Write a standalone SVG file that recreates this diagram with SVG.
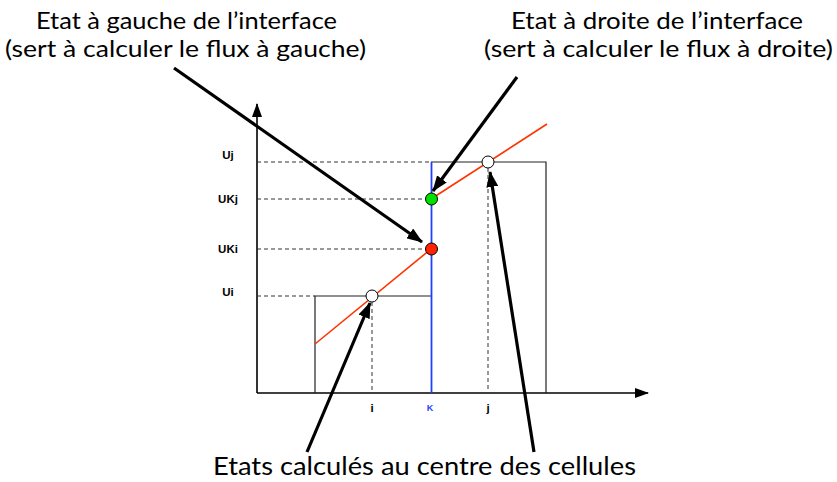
<svg xmlns="http://www.w3.org/2000/svg" width="837" height="482" viewBox="0 0 837 482">
<defs>
<marker id="bigArrow" markerUnits="userSpaceOnUse" markerWidth="16" markerHeight="12" refX="15" refY="6" orient="auto">
<path d="M0,0 L16,6 L0,12 z" fill="#000"/>
</marker>
<marker id="axisArrow" markerUnits="userSpaceOnUse" markerWidth="14" markerHeight="10" refX="13" refY="5" orient="auto">
<path d="M0,0 L14,5 L0,10 z" fill="#000"/>
</marker>
</defs>
<style>
.title{font-family:Lato,"Open Sans","DejaVu Sans",sans-serif;font-size:23px;fill:#000;text-anchor:middle}
.lbl{font-family:"Liberation Sans",Arial,sans-serif;font-size:11.5px;font-weight:bold;fill:#000;text-anchor:middle}
.dash{stroke:#333;stroke-width:1;stroke-dasharray:4,3;fill:none}
.cell{stroke:#222;stroke-width:1.2;fill:none}
.axis{stroke:#000;stroke-width:1.6;fill:none}
.big{stroke:#000;stroke-width:3.2;fill:none;marker-end:url(#bigArrow)}
.red{stroke:#ff3300;stroke-width:1.6;fill:none}
.pt{stroke:#000;stroke-width:1}
</style>
<rect width="837" height="482" fill="#fff"/>

<g id="axes">
<line class="axis" x1="257" y1="393" x2="257" y2="104" marker-end="url(#axisArrow)"/>
<line class="axis" x1="257" y1="393" x2="648" y2="393" marker-end="url(#axisArrow)"/>
</g>

<g id="guides">
<line class="dash" x1="257" y1="162" x2="431" y2="162"/>
<line class="dash" x1="257" y1="199" x2="426" y2="199"/>
<line class="dash" x1="257" y1="249" x2="426" y2="249"/>
<line class="dash" x1="257" y1="296" x2="315" y2="296"/>
<line class="dash" x1="372" y1="302" x2="372" y2="393"/>
<line class="dash" x1="488" y1="168" x2="488" y2="393"/>
</g>

<g id="cell-i">
<polyline class="cell" points="315,393 315,296 431,296"/>
</g>
<g id="cell-j">
<polyline class="cell" points="431,162 546,162 546,393"/>
</g>

<g id="interface-K">
<line x1="431.5" y1="162" x2="431.5" y2="393" stroke="#1f3fff" stroke-width="1.8"/>
</g>

<g id="reconstruction">
<line class="red" x1="315" y1="344" x2="431" y2="249"/>
<line class="red" x1="431" y1="199" x2="547" y2="124"/>
</g>

<g id="point-i"><circle class="pt" cx="372" cy="296" r="6" fill="#fff"/></g>
<g id="point-j"><circle class="pt" cx="488" cy="162" r="6" fill="#fff"/></g>
<g id="point-UKi"><circle class="pt" cx="431.5" cy="249" r="6" fill="#ff2200"/></g>
<g id="point-UKj"><circle class="pt" cx="431.5" cy="199" r="6" fill="#00e000"/></g>

<g id="labels">
<text class="lbl" x="228" y="159">Uj</text>
<text class="lbl" x="228" y="203">UKj</text>
<text class="lbl" x="228" y="253">UKi</text>
<text class="lbl" x="228" y="296">Ui</text>
<text class="lbl" x="372" y="412">i</text>
<text class="lbl" x="430" y="411" style="fill:#1f3fff;font-size:9px">K</text>
<text class="lbl" x="488" y="412">j</text>
</g>

<g id="note-left">
<text class="title" x="186.5" y="29" textLength="301" lengthAdjust="spacingAndGlyphs">Etat à gauche de l’interface</text>
<text class="title" x="185.5" y="57" textLength="361" lengthAdjust="spacingAndGlyphs">(sert à calculer le flux à gauche)</text>
</g>
<g id="note-right">
<text class="title" x="657" y="29" textLength="292" lengthAdjust="spacingAndGlyphs">Etat à droite de l’interface</text>
<text class="title" x="658.5" y="57" textLength="349" lengthAdjust="spacingAndGlyphs">(sert à calculer le flux à droite)</text>
</g>
<g id="note-bottom">
<text class="title" x="424.5" y="475" textLength="423" lengthAdjust="spacingAndGlyphs" style="font-size:25px">Etats calculés au centre des cellules</text>
</g>

<g id="connectors">
<line class="big" x1="174" y1="68" x2="422" y2="242"/>
<line class="big" x1="517" y1="77" x2="433" y2="191"/>
<line class="big" x1="307" y1="452" x2="370" y2="303"/>
<line class="big" x1="534" y1="452" x2="490" y2="172"/>
</g>
</svg>
